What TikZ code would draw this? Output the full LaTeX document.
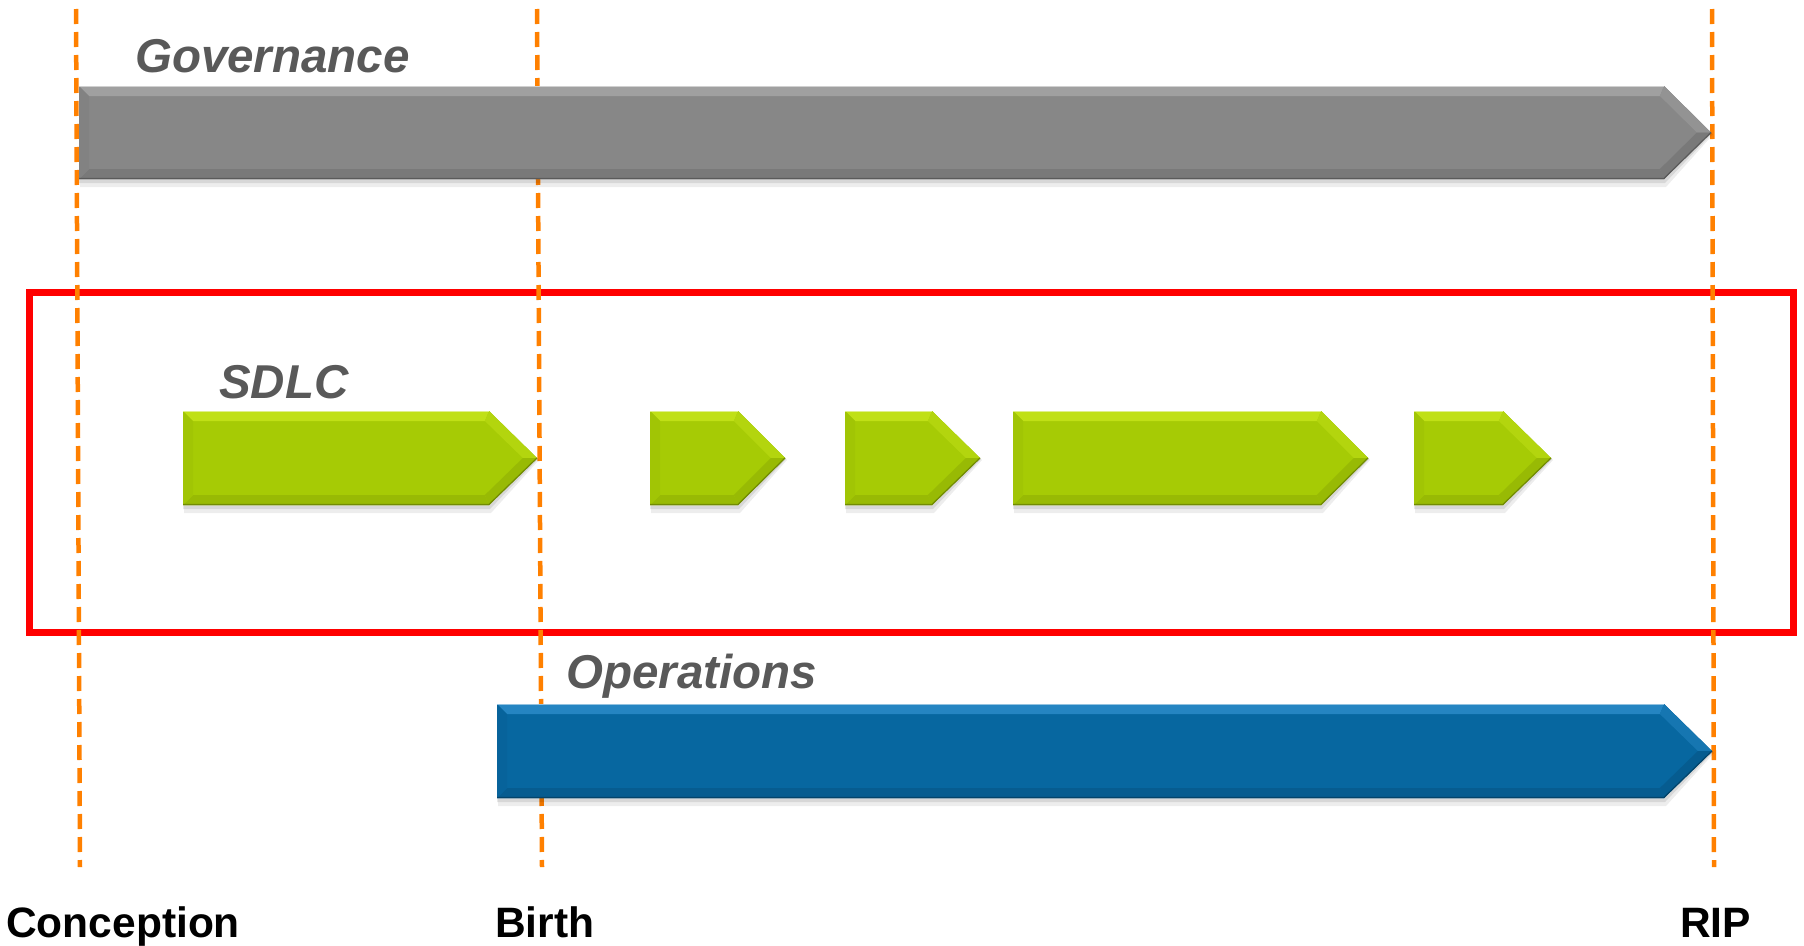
\documentclass[tikz,border=0pt]{standalone}
\usepackage{fontspec}
\setmainfont{Liberation Sans}
\definecolor{govbase}{HTML}{878787}
\definecolor{govlight}{HTML}{A0A0A0}
\definecolor{govdark}{HTML}{707070}
\definecolor{sdlcbase}{HTML}{A6CB05}
\definecolor{sdlclight}{HTML}{C0E016}
\definecolor{sdlcdark}{HTML}{8EAE04}
\definecolor{opsbase}{HTML}{0767A0}
\definecolor{opslight}{HTML}{2585C2}
\definecolor{opsdark}{HTML}{055585}
\definecolor{orangeline}{HTML}{FF8000}
\definecolor{redline}{HTML}{FF0000}
\definecolor{labelgray}{HTML}{595959}
\tikzset{
  lifeline/.style={draw=orangeline, line width=4.5pt, dash pattern=on 15pt off 8pt},
  scopebox/.style={draw=redline, line width=7pt, line join=miter},
  phaselabel/.style={anchor=base west, inner sep=0pt, text=labelgray,
    font=\fontsize{47.5}{50}\selectfont\bfseries\itshape},
  milestone/.style={anchor=base west, inner sep=0pt, text=black,
    font=\fontsize{42.5}{45}\selectfont\bfseries},
}
% #1 left, #2 shoulder, #3 tip, #4 top, #5 bottom, #6 base, #7 light, #8 dark
\newcommand{\bevarrow}[8]{%
  \pgfmathsetmacro\bvM{(#4+#5)/2}%
  \pgfmathsetmacro\bvLi{#1+10}%
  \pgfmathsetmacro\bvSi{#2-4.1}%
  \pgfmathsetmacro\bvTi{#3-14.1}%
  \pgfmathsetmacro\bvYa{#4+10}%
  \pgfmathsetmacro\bvYb{#5-10}%
  \fill[black,opacity=0.07] (#1+1,#4+2) -- (#2+2,#4+2) -- (#3+2,\bvM+2) -- (#2+2,#5+8) -- (#1+1,#5+8) -- cycle;
  \fill[black,opacity=0.09] (#1,#4+1) -- (#2+1,#4+1) -- (#3+1,\bvM+1) -- (#2+1,#5+4) -- (#1,#5+4) -- cycle;
  \fill[#6] (#1,#4) -- (#2,#4) -- (#3,\bvM) -- (#2,#5) -- (#1,#5) -- cycle;
  \fill[#7] (#1,#4) -- (#2,#4) -- (\bvSi,\bvYa) -- (\bvLi,\bvYa) -- cycle;
  \fill[#7!50!#6] (#2,#4) -- (#3,\bvM) -- (\bvTi,\bvM) -- (\bvSi,\bvYa) -- cycle;
  \fill[#8!60!#6] (#3,\bvM) -- (#2,#5) -- (\bvSi,\bvYb) -- (\bvTi,\bvM) -- cycle;
  \fill[#8!60!#6] (#2,#5) -- (#1,#5) -- (\bvLi,\bvYb) -- (\bvSi,\bvYb) -- cycle;
  \fill[#8!20!#6] (#1,#5) -- (#1,#4) -- (\bvLi,\bvYa) -- (\bvLi,\bvYb) -- cycle;
  \draw[#7!50!white, line width=1.2pt] (#1,#4+0.6) -- (#2,#4+0.6);
  \draw[#8!80!black, line width=1.2pt] (#1,#5-0.6) -- (#2,#5-0.6) -- (#3,\bvM);
}
\begin{document}
\begin{tikzpicture}[x=1pt, y=-1pt]
  \fill[white] (0,0) rectangle (1804,945);
  \useasboundingbox (0,0) rectangle (1804,945);

  % scope box
  \draw[scopebox] (29,292) rectangle (1793,632);

  % milestone lines
  \coordinate (conTop) at (76,9);   \coordinate (conBot) at (80,867);
  \coordinate (birTop) at (537,9);  \coordinate (birBot) at (542,867);
  \coordinate (ripTop) at (1712,9); \coordinate (ripBot) at (1714,867);
  \draw[lifeline] (conTop) -- (conBot);
  \draw[lifeline] (birTop) -- (birBot);
  \draw[lifeline] (ripTop) -- (ripBot);

  % phase bars
  \bevarrow{79}{1664}{1711}{86}{179}{govbase}{govlight}{govdark}
  \bevarrow{183}{489}{537}{411}{505}{sdlcbase}{sdlclight}{sdlcdark}
  \bevarrow{650}{738}{785}{411}{505}{sdlcbase}{sdlclight}{sdlcdark}
  \bevarrow{845}{932}{980}{411}{505}{sdlcbase}{sdlclight}{sdlcdark}
  \bevarrow{1013}{1321}{1368}{411}{505}{sdlcbase}{sdlclight}{sdlcdark}
  \bevarrow{1414}{1503}{1551}{411}{505}{sdlcbase}{sdlclight}{sdlcdark}
  \bevarrow{497}{1664}{1712}{704}{798}{opsbase}{opslight}{opsdark}

  % labels
  \node[phaselabel] (govlabel) at (135,72) {Governance};
  \node[phaselabel] (sdlclabel) at (219,398) {SDLC};
  \node[phaselabel] (opslabel) at (566,688) {Operations};
  \node[milestone] (conception) at (6,937) {Conception};
  \node[milestone] (birth) at (495,937) {Birth};
  \node[milestone] (rip) at (1680,937) {RIP};
\end{tikzpicture}
\end{document}
